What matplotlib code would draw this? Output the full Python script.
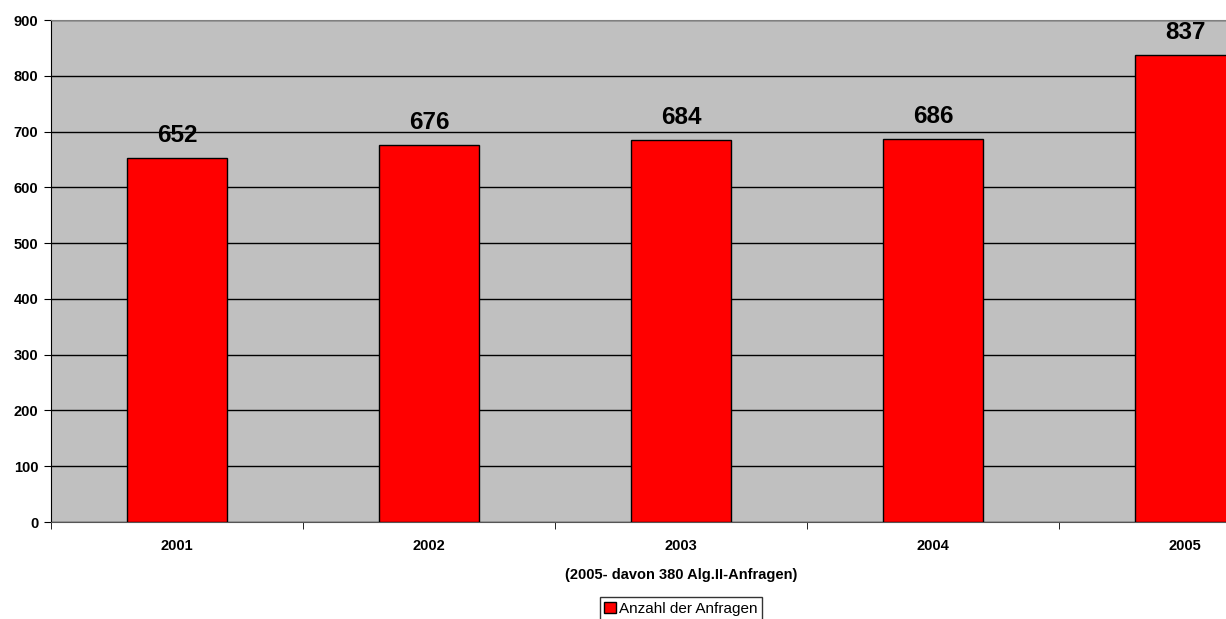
import matplotlib
matplotlib.use('Agg')
import matplotlib.pyplot as plt
import matplotlib.transforms as mtransforms
from matplotlib.patches import Patch

plt.rcParams['font.family'] = ['Liberation Sans', 'DejaVu Sans']

years = ['2001', '2002', '2003', '2004', '2005']
anfragen = [652, 676, 684, 686, 837]
y_ticks = [0, 100, 200, 300, 400, 500, 600, 700, 800, 900]

fig = plt.figure(figsize=(12.26, 6.19), dpi=100)
ax = fig.add_axes([51 / 1226, 97 / 619, 1 - 51 / 1226, 502 / 619])
ax.set_facecolor('#C0C0C0')

x = list(range(len(years)))
bars = ax.bar(x, anfragen, width=0.4, color='#FF0000', edgecolor='black',
              linewidth=1, zorder=3)

for xi, v in zip(x, anfragen):
    ax.annotate(str(v), (xi, v), xytext=(0, 8), textcoords='offset points',
                ha='center', va='bottom', fontsize=17.5, fontweight='bold')

ax.set_ylim(0, 900)
ax.set_yticks(y_ticks)
ax.set_yticklabels([str(t) for t in y_ticks], fontsize=10.5, fontweight='bold')
ax.yaxis.grid(True, color='black', linewidth=1, zorder=1)
ax.set_axisbelow(True)

# category units; the picture is cut off just past the 2005 bar
ax.set_xlim(-0.5, -0.5 + 1175 / 252)
ax.set_xticks(x)
ax.set_xticklabels(years, fontsize=10.5, fontweight='bold')
ax.tick_params(axis='x', which='major', length=0, pad=12)
ax.set_xticks([i - 0.5 for i in range(len(years))], minor=True)
ax.tick_params(axis='x', which='minor', length=5, color='black')
ax.tick_params(axis='y', length=5, color='black', pad=4)

ax.spines['top'].set_color('#808080')
ax.spines['bottom'].set_color('#555555')
ax.spines['left'].set_color('black')
ax.spines['right'].set_visible(False)

trans = mtransforms.blended_transform_factory(ax.transData, fig.transFigure)
ax.text(2.0, 1 - 575 / 619, '(2005- davon 380 Alg.II-Anfragen)', transform=trans,
        ha='center', va='center', fontsize=10.5, fontweight='bold')

handle = Patch(facecolor='#FF0000', edgecolor='black', linewidth=1)
leg = fig.legend([handle], ['Anzahl der Anfragen'], loc='upper center',
                 bbox_to_anchor=(681 / 1226, 1 - 597 / 619), fontsize=11,
                 frameon=True, fancybox=False, edgecolor='black',
                 handlelength=0.8, handleheight=0.8, handletextpad=0.2,
                 borderpad=0.3, borderaxespad=0)
leg.get_frame().set_linewidth(1)

fig.savefig('out.png', dpi=100)
